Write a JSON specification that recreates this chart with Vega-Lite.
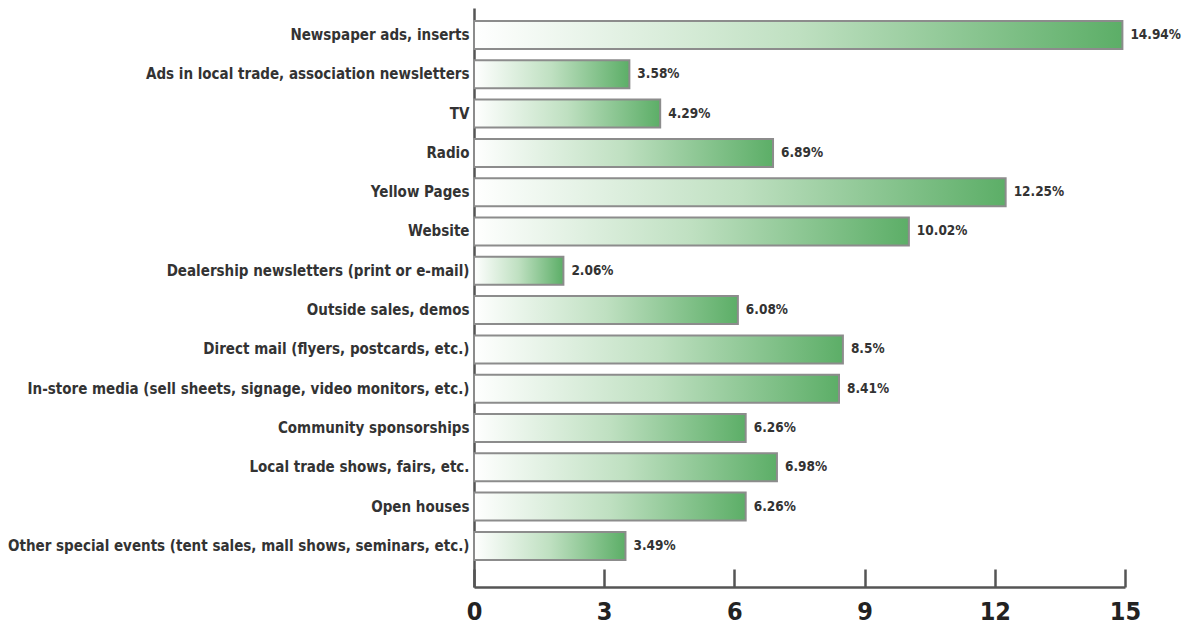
{
  "$schema": "https://vega.github.io/schema/vega-lite/v6.json",
  "autosize": {"type": "none"},
  "padding": {"left": 474, "top": 8, "right": 75, "bottom": 40},
  "width": 651,
  "height": 579,
  "background": "white",
  "config": {"view": {"stroke": null}},
  "data": {"values": [
    {"category": "Newspaper ads, inserts", "value": 14.94, "label": "14.94%"},
    {"category": "Ads in local trade, association newsletters", "value": 3.58, "label": "3.58%"},
    {"category": "TV", "value": 4.29, "label": "4.29%"},
    {"category": "Radio", "value": 6.89, "label": "6.89%"},
    {"category": "Yellow Pages", "value": 12.25, "label": "12.25%"},
    {"category": "Website", "value": 10.02, "label": "10.02%"},
    {"category": "Dealership newsletters (print or e-mail)", "value": 2.06, "label": "2.06%"},
    {"category": "Outside sales, demos", "value": 6.08, "label": "6.08%"},
    {"category": "Direct mail (flyers, postcards, etc.)", "value": 8.5, "label": "8.5%"},
    {"category": "In-store media (sell sheets, signage, video monitors, etc.)", "value": 8.41, "label": "8.41%"},
    {"category": "Community sponsorships", "value": 6.26, "label": "6.26%"},
    {"category": "Local trade shows, fairs, etc.", "value": 6.98, "label": "6.98%"},
    {"category": "Open houses", "value": 6.26, "label": "6.26%"},
    {"category": "Other special events (tent sales, mall shows, seminars, etc.)", "value": 3.49, "label": "3.49%"}
  ]},
  "encoding": {
    "y": {
      "field": "category", "type": "nominal", "sort": null,
      "scale": {"paddingInner": 0.287, "paddingOuter": 0.51, "align": 0.324},
      "axis": {
        "title": null, "ticks": false, "domainColor": "#555555", "domainWidth": 2.5,
        "labelFont": "DejaVu Sans Condensed", "labelFontWeight": "bold", "labelFontSize": 15,
        "labelColor": "#333333", "labelPadding": 5, "labelLimit": 0
      }
    },
    "x": {
      "field": "value", "type": "quantitative",
      "scale": {"domain": [0, 15], "nice": false},
      "axis": {
        "title": null, "values": [0, 3, 6, 9, 12, 15], "grid": false, "labelFlush": false,
        "domainColor": "#555555", "domainWidth": 2.5,
        "tickColor": "#555555", "tickWidth": 2.5, "tickSize": -18,
        "labelFont": "DejaVu Sans Condensed", "labelFontWeight": "bold", "labelFontSize": 25,
        "labelColor": "#222222", "labelPadding": 30
      }
    }
  },
  "layer": [
    {
      "mark": {
        "type": "bar",
        "stroke": "#8c8c8c", "strokeWidth": 2,
        "color": {
          "gradient": "linear", "x1": 0, "x2": 1, "y1": 0, "y2": 0,
          "stops": [
            {"offset": 0, "color": "#ffffff"},
            {"offset": 0.5, "color": "#bfe0c1"},
            {"offset": 1, "color": "#5cae67"}
          ]
        }
      }
    },
    {
      "mark": {
        "type": "text", "align": "left", "baseline": "middle", "dx": 8,
        "font": "DejaVu Sans Condensed", "fontWeight": "bold", "fontSize": 13.5, "color": "#333333"
      },
      "encoding": {"text": {"field": "label"}}
    }
  ]
}
